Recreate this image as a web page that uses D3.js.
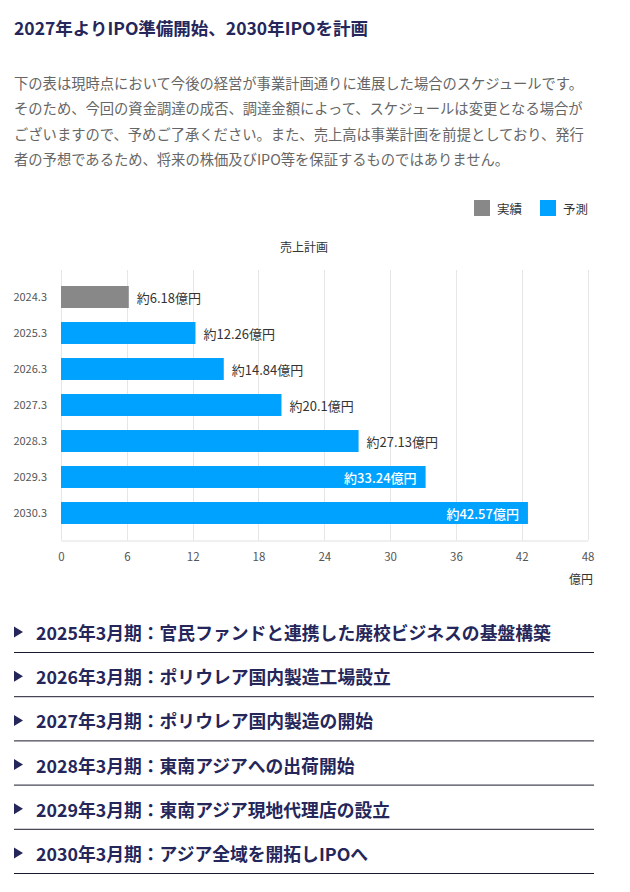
<!DOCTYPE html>
<html lang="ja">
<head>
<meta charset="utf-8">
<script src="https://cdn.jsdelivr.net/npm/d3@7"></script>
<style>
  html, body { margin: 0; padding: 0; background: #ffffff; }
  svg { display: block; font-family: "Noto Sans CJK JP", "Noto Sans", sans-serif; }
</style>
</head>
<body>
<svg id="chart" width="630" height="892"></svg>
<script>
// ---- data ----
const pageTitle = "2027年よりIPO準備開始、2030年IPOを計画";
const noteLines = [
  "下の表は現時点において今後の経営が事業計画通りに進展した場合のスケジュールです。",
  "そのため、今回の資金調達の成否、調達金額によって、スケジュールは変更となる場合が",
  "ございますので、予めご了承ください。また、売上高は事業計画を前提としており、発行",
  "者の予想であるため、将来の株価及びIPO等を保証するものではありません。"
];
const chartTitle = "売上計画";
const categories = ["2024.3", "2025.3", "2026.3", "2027.3", "2028.3", "2029.3", "2030.3"];
const salesValues = [6.18, 12.26, 14.84, 20.1, 27.13, 33.24, 42.57];
const seriesKind = ["実績", "予測", "予測", "予測", "予測", "予測", "予測"];
const legendNames = ["実績", "予測"];
const xTicks = [0, 6, 12, 18, 24, 30, 36, 42, 48];
const unitLabel = "億円";
const milestones = [
  "2025年3月期：官民ファンドと連携した廃校ビジネスの基盤構築",
  "2026年3月期：ポリウレア国内製造工場設立",
  "2027年3月期：ポリウレア国内製造の開始",
  "2028年3月期：東南アジアへの出荷開始",
  "2029年3月期：東南アジア現地代理店の設立",
  "2030年3月期：アジア全域を開拓しIPOへ"
];

// ---- styles ----
const navy = "#25265a";
const colorScale = d3.scaleOrdinal().domain(legendNames).range(["#888888", "#00a2ff"]);

const svg = d3.select("#chart");

// title
svg.append("text")
  .attr("x", 14).attr("y", 27)
  .attr("dominant-baseline", "central")
  .attr("font-size", 17.5).attr("font-weight", 700)
  .attr("fill", navy)
  .text(pageTitle);

// note paragraph
svg.append("g").selectAll("text").data(noteLines).join("text")
  .attr("x", 14)
  .attr("y", (d, i) => 82 + i * 25.5)
  .attr("dominant-baseline", "central")
  .attr("font-size", 14.3)
  .attr("fill", "#666666")
  .text(d => d);

// legend
const legendX = [474, 540];
const lg = svg.append("g").selectAll("g").data(legendNames).join("g")
  .attr("transform", (d, i) => `translate(${legendX[i]},200)`);
lg.append("rect").attr("width", 16).attr("height", 16).attr("fill", d => colorScale(d));
lg.append("text").attr("x", 23).attr("y", 8.5)
  .attr("dominant-baseline", "central")
  .attr("font-size", 12.5).attr("fill", "#333333")
  .text(d => d);

// chart title
svg.append("text")
  .attr("x", 304).attr("y", 246)
  .attr("text-anchor", "middle").attr("dominant-baseline", "central")
  .attr("font-size", 12).attr("fill", "#333333")
  .text(chartTitle);

// scales
const x = d3.scaleLinear().domain([0, 48]).range([61, 587.5]);
const y = d3.scaleBand().domain(categories).range([279, 531])
  .paddingInner(0.39).paddingOuter(0.195);
const gridTop = 270, gridBottom = 540.5;

// grid
svg.append("g").selectAll("line").data(xTicks).join("line")
  .attr("x1", d => Math.round(x(d)) + 0.5).attr("x2", d => Math.round(x(d)) + 0.5)
  .attr("y1", gridTop).attr("y2", gridBottom)
  .attr("stroke", "#e6e6e6").attr("stroke-width", 1);

// x axis
const xAxis = svg.append("g")
  .attr("transform", `translate(0,${gridBottom})`)
  .call(d3.axisBottom(x).tickValues(xTicks).tickSize(0).tickPadding(12));
xAxis.select(".domain").attr("stroke", "#e0e0e0");
xAxis.selectAll("text")
  .attr("font-size", 11.5).attr("fill", "#555555")
  .attr("font-family", "\"Noto Sans CJK JP\", sans-serif");

svg.append("text")
  .attr("x", 593).attr("y", 578)
  .attr("text-anchor", "end").attr("dominant-baseline", "central")
  .attr("font-size", 12).attr("fill", "#333333")
  .text(unitLabel);

// y axis
const yAxis = svg.append("g")
  .attr("transform", `translate(61,0)`)
  .call(d3.axisLeft(y).tickSize(0).tickPadding(14));
yAxis.select(".domain").remove();
yAxis.selectAll("text")
  .attr("font-size", 11).attr("fill", "#555555")
  .attr("font-family", "\"Noto Sans CJK JP\", sans-serif");

// bars
const rows = categories.map((c, i) => ({ cat: c, v: salesValues[i], kind: seriesKind[i] }));
svg.append("g").selectAll("rect").data(rows).join("rect")
  .attr("x", x(0))
  .attr("y", d => y(d.cat))
  .attr("width", d => x(d.v) - x(0))
  .attr("height", y.bandwidth())
  .attr("fill", d => colorScale(d.kind));

// bar labels
svg.append("g").selectAll("text").data(rows).join("text")
  .each(function (d) {
    const inside = d.v > 30;
    d3.select(this)
      .attr("x", inside ? x(d.v) - 9 : x(d.v) + 8)
      .attr("text-anchor", inside ? "end" : "start")
      .attr("fill", inside ? "#ffffff" : "#333333")
      .attr("font-weight", inside ? 500 : 400);
  })
  .attr("y", d => y(d.cat) + y.bandwidth() / 2)
  .attr("dominant-baseline", "central")
  .attr("font-size", 13)
  .text(d => `約${d.v}億円`);

// milestones list
const ms = svg.append("g").selectAll("g").data(milestones).join("g")
  .attr("transform", (d, i) => `translate(0,${632 + i * 44.2})`);
ms.append("path")
  .attr("d", "M14,-5.5 L23,0 L14,5.5 Z")
  .attr("fill", navy);
ms.append("text")
  .attr("x", 36).attr("y", 0)
  .attr("dominant-baseline", "central")
  .attr("font-size", 17.8).attr("font-weight", 700)
  .attr("fill", navy)
  .text(d => d);
ms.append("line")
  .attr("x1", 14).attr("x2", 594)
  .attr("y1", 20.5).attr("y2", 20.5)
  .attr("stroke", "#1a1a2e").attr("stroke-width", 1);
</script>
</body>
</html>
